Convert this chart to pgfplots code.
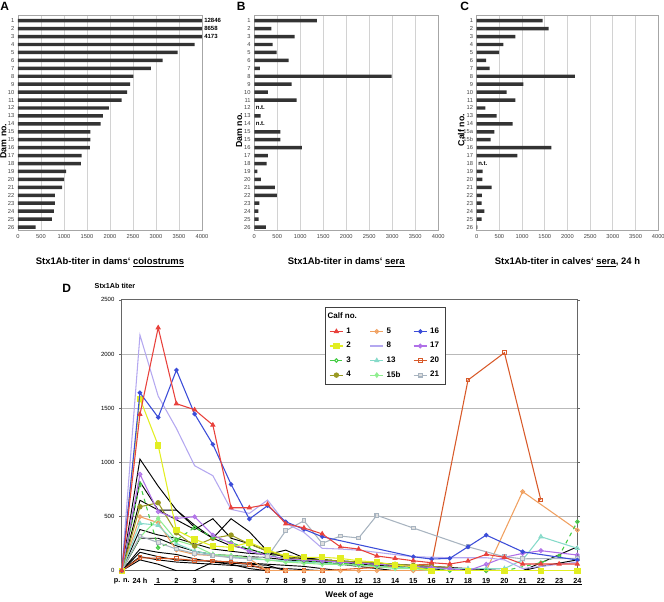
\documentclass[border=0pt]{standalone}
\usepackage{fontspec}
\setmainfont{Liberation Sans}
\usepackage{pgfplots}
\pgfplotsset{compat=1.18}

\definecolor{barc}{HTML}{333333}
\definecolor{cred}{HTML}{E8413C}
\definecolor{cyel}{HTML}{E2EE22}
\definecolor{cgrn}{HTML}{44CC44}
\definecolor{coli}{HTML}{999922}
\definecolor{corg}{HTML}{F0A060}
\definecolor{clav}{HTML}{B4A8F0}
\definecolor{caqu}{HTML}{A8F0DC}
\definecolor{clgr}{HTML}{90EE90}
\definecolor{cblu}{HTML}{3B4CD8}
\definecolor{cpur}{HTML}{B070E8}
\definecolor{cord}{HTML}{D85A2A}
\definecolor{cgry}{HTML}{A8B4C0}

\tikzset{
  ntnode/.style={anchor=west, font=\fontsize{4.5}{5}\bfseries\selectfont, inner sep=1pt},
  valnode/.style={anchor=west, font=\fontsize{4.5}{5}\bfseries\selectfont, inner sep=1.5pt},
}

\pgfplotsset{
  barpanel/.style={
    scale only axis, width=138pt, height=161pt,
    xbar, bar width=2.6pt,
    xmin=0, xmax=4000, ymin=0.35, ymax=27.4, y dir=reverse,
    xtick={0,500,...,4000}, ytick={1,...,27},
    xmajorgrids, grid style={gray!35, line width=0.6pt},
    axis line style={gray!70},
    major tick length=0pt,
    tick label style={font=\fontsize{4.3}{5}\selectfont, text=black!75},
    yticklabel style={xshift=0.8pt},
    /pgf/number format/assume math mode=true,
    /pgf/number format/1000 sep={},
    clip mode=individual,
    xlabel style={at={(axis description cs:0.5,0)}, anchor=center, yshift=-24pt,
      font=\fontsize{7.1}{8}\bfseries\selectfont},
    ylabel style={anchor=center, font=\fontsize{6.6}{8}\bfseries\selectfont},
  },
  blk/.style={black, line width=0.7pt, no markers},
  s1/.style={cred, line width=0.8pt, mark=triangle*, mark size=1.6pt},
  s2/.style={cyel, line width=0.8pt, mark=square*, mark size=2pt},
  s3/.style={cgrn, line width=0.8pt, dashed, mark=o, mark size=1.3pt, mark options={solid, fill=white}},
  s4/.style={coli, line width=0.8pt, mark=*, mark size=1.6pt},
  s5/.style={corg, line width=0.8pt, mark=o, mark size=1.4pt, mark options={fill=white}},
  s8/.style={clav, line width=0.8pt, no markers},
  s13/.style={caqu!80!teal, line width=0.8pt, mark=triangle, mark size=1.6pt, mark options={fill=white}},
  s15/.style={clgr, line width=0.8pt, mark=diamond*, mark size=1.6pt},
  s16/.style={cblu, line width=0.8pt, mark=*, mark size=1.3pt},
  s17/.style={cpur, line width=0.8pt, mark=o, mark size=1.4pt, mark options={fill=white}},
  s20/.style={cord, line width=0.8pt, mark=square, mark size=1.4pt, mark options={fill=white}},
  s21/.style={cgry, line width=0.8pt, mark=square*, mark size=1.4pt, mark options={fill=gray!25}},
}

\begin{document}
\begin{tikzpicture}
\useasboundingbox (0,0) rectangle (498pt,450.75pt);

% panel letters
\node[anchor=west, inner sep=0, font=\fontsize{9}{10}\bfseries\selectfont] at (0pt,446pt) {A};
\node[anchor=west, inner sep=0, font=\fontsize{9}{10}\bfseries\selectfont] at (177.5pt,446pt) {B};
\node[anchor=west, inner sep=0, font=\fontsize{9}{10}\bfseries\selectfont] at (345pt,446pt) {C};
\node[anchor=west, inner sep=0, font=\fontsize{9}{10}\bfseries\selectfont] at (46.5pt,234.7pt) {D};

% A: colostrum
\begin{axis}[barpanel, at={(13.5pt,278.1pt)}, anchor=south west,
  yticklabels={1,2,3,4,5,6,7,8,9,10,11,12,13,14,15,15,16,17,18,19,20,21,22,23,24,25,26},
  xlabel={Stx1Ab-titer in dams` \underline{colostrums}},
  ylabel={Dam no.},
  ylabel style={at={(axis description cs:-0.08,0.415)}}]
\addplot[fill=barc, draw=none] coordinates {
  (12846,1) (8658,2) (4173,3) (3840,4) (3469,5) (3142,6) (2887,7) (2509,8) (2436,9)
  (2371,10) (2255,11) (1978,12) (1847,13) (1796,14) (1571,15) (1571,16) (1564,17)
  (1382,18) (1367,19) (1047,20) (1004,21) (960,22) (800,23) (800,24) (778,25) (735,26) (385,27)
};
\node[valnode] at (axis cs:4000,1) {12846};
\node[valnode] at (axis cs:4000,2) {8658};
\node[valnode] at (axis cs:4000,3) {4173};
\end{axis}

% B: dams sera
\begin{axis}[barpanel, at={(190.7pt,278.1pt)}, anchor=south west,
  yticklabels={1,2,3,4,5,6,7,8,9,10,11,12,13,14,15,15,16,17,18,19,20,21,22,23,24,25,26},
  xlabel={Stx1Ab-titer in dams` \underline{sera}},
  ylabel={Dam no.},
  ylabel style={at={(axis description cs:-0.082,0.466)}}]
\addplot[fill=barc, draw=none] coordinates {
  (1362,1) (370,2) (877,3) (399,4) (486,5) (746,6) (123,7) (2986,8) (812,9)
  (297,10) (920,11) (138,13) (565,15) (565,16) (1036,17)
  (297,18) (268,19) (65,20) (145,21) (449,22) (493,23) (109,24) (87,25) (94,26) (254,27)
};
\node[ntnode] at (axis cs:0,12) {n.t.};
\node[ntnode] at (axis cs:0,14) {n.t.};
\end{axis}

% C: calves sera 24 h
\begin{axis}[barpanel, width=136.2pt, at={(357.5pt,278.1pt)}, anchor=south west,
  yticklabels={1,2,3,4,5,6,7,8,9,10,11,12,13,14,15a,15b,16,17,18,19,20,21,22,23,24,25,26},
  xlabel={Stx1Ab-titer in calves` \underline{sera}, 24 h},
  ylabel={Calf no.},
  ylabel style={at={(axis description cs:-0.085,0.466)}}]
\addplot[fill=barc, draw=none] coordinates {
  (1453,1) (1585,2) (851,3) (587,4) (492,5) (206,6) (286,7) (2165,8) (1028,9)
  (661,10) (851,11) (191,12) (440,13) (793,14) (389,15) (308,16) (1644,17)
  (895,18) (132,20) (125,21) (330,22) (117,23) (110,24) (169,25) (110,26) (15,27)
};
\node[ntnode] at (axis cs:0,19) {n.t.};
\end{axis}

% D: time course
\begin{axis}[scale only axis, width=341.7pt, height=203.25pt,
  at={(91.3pt,22.7pt)}, anchor=south west,
  xmin=0, xmax=25, ymin=0, ymax=2500,
  xtick={0,...,25},
  xticklabels={p. n.,24 h,1,2,3,4,5,6,7,8,9,10,11,12,13,14,15,16,17,18,19,20,21,22,23,24},
  ytick={0,500,...,2500},
  ymajorgrids, grid style={gray!55, line width=0.6pt},
  axis line style={gray!80!black},
  x tick style={draw=none}, y tick style={gray!80!black},
  tick align=outside, major tick length=2pt,
  xticklabel style={font=\fontsize{5.5}{6}\bfseries\selectfont},
  yticklabel style={font=\fontsize{4.5}{5}\selectfont},
  /pgf/number format/assume math mode=true,
  /pgf/number format/1000 sep={},
  clip mode=individual,
  xlabel={Week of age},
  xlabel style={at={(axis description cs:0.5,0)}, anchor=center, yshift=-18.2pt,
    font=\fontsize{6.2}{7}\bfseries\selectfont},
  ylabel={Stx1Ab titer},
  ylabel style={rotate=-90, at={(axis description cs:-0.0696,1.05)}, anchor=west,
    font=\fontsize{5.4}{6}\bfseries\selectfont},
  legend columns=3,
  legend cell align=left,
  legend image code/.code={\draw[mark repeat=2, mark phase=2, #1]
    plot coordinates {(0pt,0pt) (5pt,0pt) (10pt,0pt)};},
  legend style={at={(axis description cs:0.446,0.972)}, anchor=north west,
    draw=gray!50!black, fill=white, font=\fontsize{6}{7}\bfseries\selectfont,
    row sep=1.2pt, inner xsep=3pt, inner ysep=2pt,
    /tikz/every even column/.append style={column sep=7.5pt}},
]
\addlegendimage{empty legend}\addlegendentry{\hspace{-14pt}Calf no.}
\addlegendimage{empty legend}\addlegendentry{}
\addlegendimage{empty legend}\addlegendentry{}
\addlegendimage{s1}\addlegendentry{1}
\addlegendimage{s5}\addlegendentry{5}
\addlegendimage{s16}\addlegendentry{16}
\addlegendimage{s2}\addlegendentry{2}
\addlegendimage{s8}\addlegendentry{8}
\addlegendimage{s17}\addlegendentry{17}
\addlegendimage{s3}\addlegendentry{3}
\addlegendimage{s13}\addlegendentry{13}
\addlegendimage{s20}\addlegendentry{20}
\addlegendimage{s4}\addlegendentry{4}
\addlegendimage{s15}\addlegendentry{15b}
\addlegendimage{s21}\addlegendentry{21}

% unlabelled calves
\addplot[blk, forget plot] coordinates {(0,0) (1,1030) (2,780) (3,560) (4,420) (5,300) (6,230) (7,200) (8,150) (9,190) (10,120) (11,100) (12,90) (13,80) (14,70) (15,60) (16,50) (17,40) (18,30) (19,20) (20,10) (21,0)};
\addplot[blk, forget plot] coordinates {(0,0) (1,820) (2,560) (3,470) (4,380) (5,480) (6,300) (7,250) (8,180) (9,130) (10,110) (11,100) (12,90) (13,80) (14,60) (15,50) (16,40) (17,30) (18,20) (19,10) (20,0)};
\addplot[blk, forget plot] coordinates {(0,0) (1,650) (2,560) (3,560) (4,400) (5,300) (6,480) (7,360) (8,180) (9,120) (10,100) (11,90) (12,80) (13,60) (14,50) (15,40) (16,30) (17,20) (18,0)};
\addplot[blk, forget plot] coordinates {(0,0) (1,380) (2,330) (3,300) (4,250) (5,200) (6,180) (7,160) (8,150) (9,140) (10,120) (11,100) (12,90) (13,70) (14,60) (15,50) (16,40) (17,30) (18,20) (19,0)};
\addplot[blk, forget plot] coordinates {(0,0) (1,300) (2,300) (3,230) (4,180) (5,150) (6,140) (7,130) (8,120) (9,100) (10,90) (11,80) (12,60) (13,40) (14,20) (15,0)};
\addplot[blk, forget plot] coordinates {(0,0) (1,200) (2,170) (3,150) (4,110) (5,80) (6,70) (7,60) (8,50) (9,0) (12,0) (16,0) (20,0) (25,0)};
\addplot[blk, forget plot] coordinates {(0,0) (1,170) (2,130) (3,100) (4,90) (5,90) (6,80) (7,70) (8,60) (9,50) (10,40) (11,20) (12,0)};
\addplot[blk, forget plot] coordinates {(0,0) (1,100) (2,60) (3,0) (4,0) (5,80) (6,60) (7,20) (8,0) (14,0) (22,0) (23,40) (25,100)};
\addplot[blk, forget plot] coordinates {(0,0) (1,130) (2,100) (3,80) (4,70) (5,60) (6,50) (7,40) (8,30) (9,20) (10,10) (11,0) (18,0) (22,0) (25,221)};

% labelled calves
\addplot[s20, forget plot] coordinates {(0,0) (1,120) (2,115) (3,110) (4,95) (5,90) (6,80) (7,60) (8,0) (9,0) (10,0) (11,0) (17,62) (19,1759) (21,2011) (23,652)};
\addplot[s5, forget plot] coordinates {(0,0) (1,498) (2,443) (3,191) (4,150) (5,140) (6,130) (7,110) (8,0) (9,0) (10,0) (11,0) (12,0) (13,0) (14,0) (16,0) (20,0) (22,730) (25,375)};
\addplot[s13, forget plot] coordinates {(0,0) (1,437) (2,420) (3,250) (4,180) (5,150) (6,130) (7,110) (8,100) (9,90) (10,80) (11,70) (12,60) (13,50) (14,40) (15,30) (16,30) (17,20) (18,20) (19,20) (20,20) (21,20) (22,100) (23,314) (25,207)};
\addplot[s15, forget plot] coordinates {(0,0) (1,310) (2,483) (3,280) (4,230) (5,150) (6,140) (7,120) (8,100) (9,80) (10,70) (11,60) (12,60) (13,50) (14,40) (15,20) (16,20) (17,0)};
\addplot[s4, forget plot] coordinates {(0,0) (1,590) (2,627) (3,350) (4,228) (5,300) (6,329) (7,246) (8,180) (9,130) (10,100) (11,100) (12,90) (13,80) (14,70) (15,60) (16,50) (17,40) (18,30)};
\addplot[s3, forget plot] coordinates {(0,0) (1,800) (2,212) (3,283) (4,400) (5,308) (6,260) (7,200) (8,150) (9,110) (10,90) (11,80) (12,70) (13,60) (14,50) (15,40) (16,30) (17,20) (18,0) (20,0) (21,0) (23,74) (24,136) (25,452)};
\addplot[s17, forget plot] coordinates {(0,0) (1,890) (2,544) (3,483) (4,498) (5,329) (6,250) (7,180) (8,140) (9,110) (10,100) (11,90) (12,80) (13,70) (14,60) (15,50) (16,40) (17,30) (18,20) (19,0) (20,60) (21,124) (22,160) (23,185) (25,145)};
\addplot[s21, forget plot] coordinates {(0,0) (1,320) (2,260) (3,200) (4,160) (5,140) (6,120) (7,110) (8,130) (9,369) (10,461) (11,253) (12,320) (13,302) (14,511) (16,394) (19,221) (21,129) (22,110) (25,114)};
\addplot[s2, forget plot] coordinates {(0,0) (1,1587) (2,1157) (3,375) (4,290) (5,228) (6,216) (7,262) (8,191) (9,136) (10,124) (11,124) (12,114) (13,92) (14,80) (15,53) (16,37) (17,0) (19,0) (21,0) (23,0) (25,0)};
\addplot[s8, forget plot] coordinates {(0,0) (1,2174) (2,1611) (3,1313) (4,969) (5,877) (6,566) (7,529) (8,652) (9,437) (10,354) (11,207) (12,200) (13,190) (16,129) (17,125) (18,120) (19,120) (20,120) (21,100) (22,20) (25,80)};
\addplot[s16, forget plot] coordinates {(0,0) (1,1642) (2,1415) (3,1851) (4,1446) (5,1166) (6,797) (7,477) (8,600) (9,452) (10,382) (11,314) (16,129) (17,108) (18,114) (19,221) (20,329) (22,175) (25,99)};
\addplot[s1, forget plot] coordinates {(0,0) (1,1443) (2,2242) (3,1541) (4,1485) (5,1344) (6,581) (7,581) (8,612) (9,434) (10,395) (11,340) (12,220) (13,200) (14,136) (15,114) (16,92) (17,74) (18,62) (19,90) (20,151) (21,124) (22,62) (23,62) (24,62) (25,62)};

% bracket under the weeks
\draw[black, line width=0.5pt] ([yshift=-10pt]rel axis cs:0.0716,0) -- ([yshift=-10pt]rel axis cs:1.01,0);
\end{axis}
\end{tikzpicture}
\end{document}
